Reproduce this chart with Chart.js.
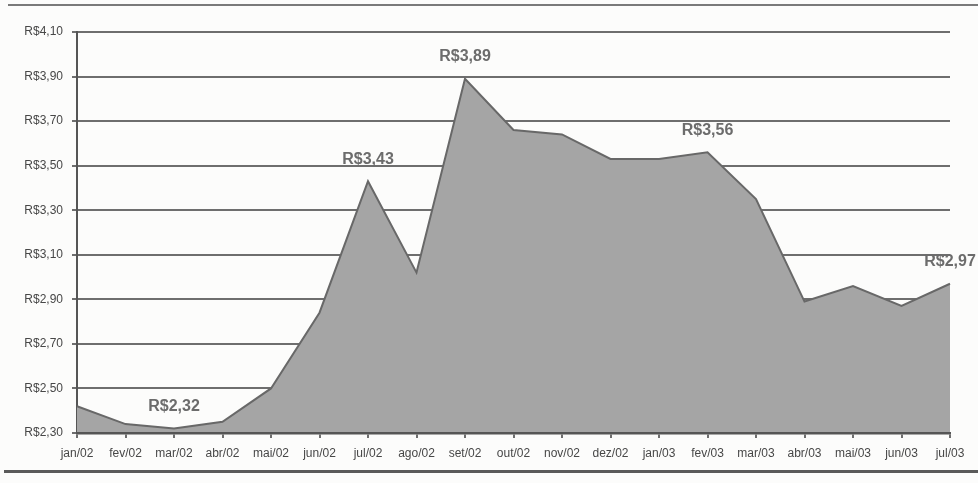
<!DOCTYPE html>
<html>
<head>
<meta charset="utf-8">
<script src="https://cdn.jsdelivr.net/npm/chart.js@4"></script>
<style>
    html, body { margin: 0; padding: 0; background: #fcfcfb; }
    #wrap { position: relative; width: 978px; height: 483px; }
    .rule { position: absolute; left: 8px; right: 0; }
    #rule-top { top: 4px; height: 2px; background: #7a7a7a; }
    #rule-bottom { top: 470px; left: 4px; height: 3px; background: #5a5a5a; }
</style>
</head>
<body>
<div id="wrap">
    <div class="rule" id="rule-top"></div>
    <canvas id="dolarChart"></canvas>
    <div class="rule" id="rule-bottom"></div>
</div>
<script>
const months = ['jan/02', 'fev/02', 'mar/02', 'abr/02', 'mai/02', 'jun/02', 'jul/02', 'ago/02', 'set/02',
    'out/02', 'nov/02', 'dez/02', 'jan/03', 'fev/03', 'mar/03', 'abr/03', 'mai/03', 'jun/03', 'jul/03'];
const dolar = [2.42, 2.34, 2.32, 2.35, 2.50, 2.84, 3.43, 3.02, 3.89,
    3.66, 3.64, 3.53, 3.53, 3.56, 3.35, 2.89, 2.96, 2.87, 2.97];
const yTickValues = [2.30, 2.50, 2.70, 2.90, 3.10, 3.30, 3.50, 3.70, 3.90, 4.10];
const labeledPoints = [2, 6, 8, 13, 18];

const GRID = '#6e6e6e';
const TEXT = '#474747';

function brl(value) {
    return 'R$' + Number(value).toFixed(2).replace('.', ',');
}

// rotulos em cima dos picos
const pointLabels = {
    id: 'pointLabels',
    afterDatasetsDraw(chart) {
        const ctx = chart.ctx;
        const meta = chart.getDatasetMeta(0);
        ctx.save();
        ctx.font = 'bold 16px "Liberation Sans", Arial, sans-serif';
        ctx.fillStyle = '#6c6c6c';
        ctx.textAlign = 'center';
        ctx.textBaseline = 'middle';
        labeledPoints.forEach((i) => {
            const pt = meta.data[i];
            if (pt) ctx.fillText(brl(dolar[i]), pt.x, pt.y - 22);
        });
        ctx.restore();
    }
};

Chart.defaults.font.family = '"Liberation Sans", Arial, sans-serif';
Chart.defaults.font.size = 12;
Chart.defaults.color = TEXT;

new Chart(document.getElementById('dolarChart'), {
    type: 'line',
    data: {
        labels: months,
        datasets: [{
            data: dolar,
            fill: 'start',
            backgroundColor: '#a5a5a5',
            borderColor: '#686868',
            borderWidth: 2,
            pointRadius: 0,
            tension: 0
        }]
    },
    options: {
        responsive: true,
        maintainAspectRatio: false,
        animation: false,
        layout: { padding: { top: 32, right: 28, bottom: 20, left: 0 } },
        plugins: { legend: { display: false }, tooltip: { enabled: false } },
        scales: {
            x: {
                offset: false,
                grid: { drawOnChartArea: false, drawTicks: true, tickLength: 5, color: GRID, lineWidth: 2 },
                border: { color: '#555', width: 2.5, z: 1 },
                ticks: { autoSkip: false, maxRotation: 0, padding: 8, font: { size: 12 } },
                afterFit(scale) { scale.height = 30; }
            },
            y: {
                min: 2.3,
                max: 4.1,
                afterBuildTicks(scale) {
                    scale.ticks = yTickValues.map((v) => ({ value: v }));
                },
                grid: { color: GRID, lineWidth: 2, tickLength: 5 },
                border: { color: '#555', width: 2 },
                ticks: { padding: 9, font: { size: 12 }, callback: (v) => brl(v) },
                afterFit(scale) { scale.width = 77; }
            }
        }
    },
    plugins: [pointLabels]
});
</script>
</body>
</html>
